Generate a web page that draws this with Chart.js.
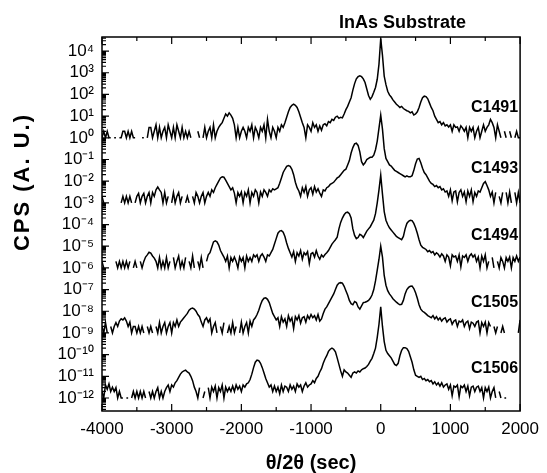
<!DOCTYPE html>
<html><head><meta charset="utf-8">
<script src="https://cdn.jsdelivr.net/npm/chart.js@4.4.1/dist/chart.umd.min.js"></script>
<style>html,body{margin:0;padding:0;background:#fff;}canvas{display:block;}</style>
</head><body>
<canvas id="c" width="547" height="473"></canvas>
<script>
const N = null;
// theta/2theta positions (sec)
const thetaSec = [
-4000,-3975,-3950,-3925,-3900,-3875,-3850,-3825,-3800,-3775,
-3750,-3725,-3700,-3675,-3650,-3625,-3600,-3575,-3550,-3525,
-3500,-3475,-3450,-3425,-3400,-3375,-3350,-3325,-3300,-3275,
-3250,-3225,-3200,-3175,-3150,-3125,-3100,-3075,-3050,-3025,
-3000,-2975,-2950,-2925,-2900,-2875,-2850,-2825,-2800,-2775,
-2750,-2725,-2700,-2675,-2650,-2625,-2600,-2575,-2550,-2525,
-2500,-2475,-2450,-2425,-2400,-2375,-2350,-2325,-2300,-2275,
-2250,-2225,-2200,-2175,-2150,-2125,-2100,-2075,-2050,-2025,
-2000,-1975,-1950,-1925,-1900,-1875,-1850,-1825,-1800,-1775,
-1750,-1725,-1700,-1675,-1650,-1625,-1600,-1575,-1550,-1525,
-1500,-1475,-1450,-1425,-1400,-1375,-1350,-1325,-1300,-1275,
-1250,-1225,-1200,-1175,-1150,-1125,-1100,-1075,-1050,-1025,
-1000,-975,-950,-925,-900,-875,-850,-825,-800,-775,
-750,-725,-700,-675,-650,-625,-600,-575,-550,-525,
-500,-475,-450,-425,-400,-375,-350,-325,-300,-275,
-250,-225,-200,-175,-150,-125,-100,-75,-50,-25,
0,25,50,75,100,125,150,175,200,225,
250,275,300,325,350,375,400,425,450,475,
500,525,550,575,600,625,650,675,700,725,
750,775,800,825,850,875,900,925,950,975,
1000,1025,1050,1075,1100,1125,1150,1175,1200,1225,
1250,1275,1300,1325,1350,1375,1400,1425,1450,1475,
1500,1525,1550,1575,1600,1625,1650,1675,1700,1725,
1750,1775,1800,1825,1850,1875,1900,1925,1950,1975,
2000];

// log10(counts) per sample (null = zero counts)
const c1491 = [
0,0.3,0,0.3,0,0,N,0,0,N,
0,0,0.3,0.3,0,0.3,0,0.3,0,0,
N,0,N,0,0,N,0,0.48,0.48,0,
0.3,0.6,0,0.48,0,0.3,0.48,0,0.6,0.3,
0,0.48,0,0.6,0.3,0,0.48,0,0.3,0,
0.3,0,N,0,N,0.3,0,N,0,0.48,
0,0.3,0.48,0,0.6,0,0.3,0.48,0.6,0.7,
0.9,1.1,1.0,1.15,1.05,0.9,0.6,0,0.48,0,
0.3,0.48,0.3,0,0.48,0.3,0.6,0,0.48,0.3,
0,0.48,0.3,0.6,0,0.85,0.3,0,0.48,0.3,
0,0.48,0.3,0.6,0.48,0.7,0.95,1.2,1.4,1.5,
1.55,1.5,1.4,1.2,0.95,0.7,0.48,0,0.6,0.48,
0.3,0.7,0.48,0.6,0.3,0.55,0.35,0.6,0.65,0.55,
0.75,0.7,0.85,0.8,0.95,1.0,0.9,0.95,0.92,1.1,
1.3,1.45,1.65,1.85,2.2,2.5,2.72,2.82,2.86,2.82,
2.72,2.55,2.25,1.95,1.78,1.9,2.1,2.32,2.7,3.4,
4.58,3.8,2.85,2.45,2.15,1.98,1.88,1.75,1.65,1.55,
1.48,1.4,1.45,1.35,1.3,1.25,1.22,1.15,1.2,1.05,
1.1,1.2,1.4,1.65,1.85,1.92,1.9,1.8,1.6,1.4,
1.25,1.0,0.85,0.7,0.75,0.6,0.7,0.55,0.6,0.5,
0.6,0.3,0.6,0.48,0.5,0.3,0.55,0.45,0.3,0.48,
0,0.48,0.3,0.48,0,0.3,0.48,0,0.3,0.6,
0.3,0.48,0.6,0.85,0.7,0.48,0,0.6,0.3,0,
N,0.3,0,N,0.3,0,N,0,0.3,0,
0];

const c1493 = [
0.3,0,N,0,N,N,0,N,N,0,
N,0,0.3,0,0.3,0,0.3,0,N,0,
0.3,0.44,0,0.3,0.44,0,0.3,0.48,0,0.48,
0.3,0.6,0.73,0.6,0.48,0,0.48,0,0.3,N,
0,0.48,0,0.3,0.48,0,0.3,N,0,0.3,
0,N,0.3,0,0.48,0.3,0,0.3,0.48,0,
0.3,0.48,0.3,0.6,0.48,0.7,0.85,1.0,1.15,1.2,
1.18,1.05,0.9,0.75,0.6,0.7,0.45,0,0.48,0.3,
0.5,0,0.48,0.3,0.6,0,0.48,0.3,0.6,0.48,
0,0.5,0.3,0.6,0.48,0.3,0.6,0.5,0.65,0.6,
0.65,0.7,0.9,1.15,1.4,1.55,1.68,1.72,1.68,1.55,
1.3,0.95,0.7,0.55,0.3,0.7,0.48,0.75,0.3,0.6,
0.7,0.4,0.75,0.5,0.65,0.45,0.3,0.6,0.55,0.7,
0.75,0.85,0.9,0.95,1.05,1.15,1.2,1.3,1.4,1.5,
1.55,1.75,1.95,2.3,2.55,2.72,2.75,2.65,2.35,1.9,
1.75,1.85,2.0,2.05,2.1,2.1,2.2,2.45,2.85,3.45,
4.05,3.4,2.5,2.05,1.9,1.75,1.7,1.6,1.5,1.45,
1.4,1.35,1.3,1.25,1.2,1.25,1.2,1.2,1.25,1.5,
1.8,2.02,2.05,1.85,1.6,1.4,1.3,1.15,1.0,0.9,
0.85,0.75,0.8,0.7,0.75,0.6,0.65,0.5,0.55,0.3,
0.6,0.1,0.5,0.55,0.05,0.48,0.6,0.3,0.5,0.05,
0.55,0.3,0.6,0.05,0.48,0.3,0.55,0.5,0.7,0.9,
0.98,0.8,0.6,0.3,0.5,0,0.48,N,0.3,0,
0.48,N,0.48,0,0.5,0,N,0.48,0,0.48,
0];

const c1494 = [
0.3,0,N,0.3,N,0,N,N,0.3,0,
0.3,0,0.3,0,0.3,0,0.3,N,0,0.3,
0,N,0.3,0,0.3,0.5,0.6,0.72,0.68,0.55,
0.45,0.3,0,0.48,0,0.3,0,0.48,0,0.3,
N,0.48,0,0.3,0.55,0,0.3,0,0.48,N,
0.3,0,0.55,0,N,0.3,0,0.48,0,N,
0.3,0.6,0.7,0.95,1.2,1.25,1.2,1.05,0.8,0.65,
0.5,0.3,0.55,0,0.48,0.3,0.5,0.3,0,0.5,
0.3,0.48,0,0.55,0.3,0.48,0.3,0.6,0.5,0.6,
0.3,0.55,0.65,0.5,0.3,0.6,0.55,0.7,0.85,1.1,
1.35,1.6,1.7,1.72,1.65,1.45,1.15,0.9,0.7,0.5,
0.75,0.3,0.7,0.55,0.8,0.4,0.7,0.6,0.75,0.2,
0.65,0.7,0.5,0.8,0.55,0.4,0.6,0.5,0.62,0.7,
0.8,0.95,1.1,1.2,1.3,1.42,1.8,2.1,2.3,2.45,
2.55,2.57,2.5,2.3,1.8,1.5,1.35,1.4,1.55,1.5,
1.4,1.55,1.7,1.8,1.9,2.05,2.2,2.5,3.0,3.6,
4.28,3.4,2.6,2.2,2.0,1.85,1.75,1.65,1.55,1.45,
1.4,1.35,1.3,1.45,1.8,2.05,2.15,2.2,2.18,2.05,
1.85,1.6,1.3,1.05,0.95,0.9,0.85,0.75,0.8,0.7,
0.75,0.6,0.7,0.63,0.5,0.65,0.55,0.3,0.6,0.5,
0.1,0.6,0.5,0.55,0.3,0.6,0.05,0.55,0.48,0.6,
0.3,0.55,0.65,0.5,0.6,0.3,0.5,0,0.55,0.3,
0.6,0,0.3,N,0.48,0,N,0.3,0,0.48,
0.3,0,0.48,0.3,0.5,0,0.48,0.3,0.55,0.3,
0.5];

const c1505 = [
0.3,0,0.48,0,N,0.3,0,0.3,0.48,0.3,
0.55,0.65,0.6,0.7,0.55,0.3,0.5,0,0.3,0.3,
0,0.3,0,0.3,0,N,0.3,0,0.3,0,
N,0.3,0,0.48,0,0.3,0.48,0,0.3,0.48,
0,0.48,0.3,0.6,0.3,0.5,0.6,0.7,0.8,0.9,
1.05,1.12,1.15,1.1,1.0,0.85,0.75,0.5,0.3,0.6,
0.7,0.5,0.65,0,0.3,0.48,0,N,0.3,0,
0.48,N,0,0.3,0,0.48,0,0.3,N,0,
0.5,0,0.3,0.48,0,0.55,0.3,0.6,0.7,0.85,
1.05,1.3,1.5,1.6,1.62,1.55,1.4,1.15,0.9,0.75,
0.6,0.7,0.3,0.75,0.5,0.65,0.3,0.8,0.55,0.7,
0.2,0.75,0.6,0.8,0.45,0.7,0.75,0.5,0.8,0.65,
0.85,0.7,0.8,0.6,0.85,0.55,0.65,0.9,1.1,1.2,
1.35,1.5,1.65,1.8,2.0,2.2,2.3,2.32,2.3,2.15,
1.95,1.75,1.5,1.35,1.3,1.45,1.4,1.2,1.1,1.25,
1.4,1.42,1.45,1.5,1.6,1.75,2.0,2.4,2.9,3.4,
4.0,3.5,2.65,2.2,1.95,1.8,1.7,1.58,1.5,1.42,
1.35,1.3,1.32,1.5,1.8,2.0,2.1,2.15,2.16,2.05,
1.85,1.6,1.3,1.1,1.0,0.95,0.88,0.8,0.75,0.7,
0.8,0.65,0.75,0.6,0.7,0.55,0.65,0.7,0.5,0.6,
0.65,0.4,0.55,0.6,0.3,0.55,0.5,0.6,0.3,0.48,
0.55,0.2,0.5,0.45,0.3,0.5,0.55,0,0.48,0.3,
0.5,0,0.48,0.3,N,0.3,0,0.3,N,0,
0.3,0,N,0,N,0,N,0,N,0,
0.6];

const c1506 = [
0.3,0,0.6,0.4,0.65,0.3,0.5,0.3,0.48,0,
0.3,0,0,N,0,0,N,0,0.3,0,
0.3,0,0.3,0,0.3,0,N,0.3,0,0.3,
0,0.3,0.48,0,0.3,0,0.3,0.48,0.6,0.3,
0.6,0.5,0.7,0.8,0.95,1.1,1.2,1.25,1.28,1.2,
1.15,1.0,0.8,0.5,0.3,0,0.48,N,0,0.3,
N,0.48,0,0.5,0.3,0.55,0,0.48,0.3,0.6,
0,0.5,0.3,0.48,0.3,0.55,0.3,0.6,0.4,0.55,
0.3,0.6,0.5,0.65,0.7,0.85,1.1,1.4,1.65,1.75,
1.72,1.6,1.4,1.15,0.9,0.7,0.5,0.6,0.3,0.55,
0.3,0.5,0.2,0.6,0.3,0.55,0.5,0.3,0.6,0.4,
0.55,0.3,0.65,0.5,0.6,0.3,0.55,0.7,0.5,0.6,
0.65,0.8,0.7,0.9,1.0,1.2,1.35,1.6,1.8,1.95,
2.15,2.25,2.3,2.25,2.13,1.85,1.55,1.25,1.0,1.3,
1.2,1.15,1.05,0.95,1.15,1.2,1.15,1.25,1.2,1.3,
1.35,1.38,1.45,1.55,1.7,1.83,2.05,2.3,2.8,3.4,
4.2,3.3,2.6,2.2,2.05,1.95,1.85,1.7,1.55,1.5,
1.6,1.95,2.2,2.32,2.32,2.28,2.15,1.9,1.65,1.3,
1.05,1.0,0.95,1.0,0.85,0.9,0.8,0.85,0.75,0.8,
0.65,0.75,0.6,0.7,0.55,0.7,0.5,0.6,0.65,0.4,
0.6,0.1,0.55,0.5,0.6,0.05,0.55,0.48,0.6,0.3,
0.55,0.1,0.5,0.55,0.3,0.5,0.55,0.3,0.48,0,
0.48,0.3,0.5,0,0.3,0.48,0,N,0.3,0,
N,0,0,N,0,N,0.3,N,0.48,N,
N];

const sampleNames = ['C1491','C1493','C1494','C1505','C1506'];
const sampleLogCounts = [c1491, c1493, c1494, c1505, c1506];
const offsetDecades = [0, -3, -6, -9, -12];      // vertical stacking of curves
const labelLogY = [1.4, -1.4, -4.5, -7.6, -10.65]; // where the sample names sit
const yTickExponents = [-12,-11,-10,-9,-8,-7,-6,-5,-4,-3,-2,-1,0,1,2,3,4];
const xTickValues = [-4000,-3000,-2000,-1000,0,1000,2000];
const xMinorTicks = [-3500,-2500,-1500,-500,500,1500];

sampleLogCounts.forEach((a,i)=>{ if(a.length!==thetaSec.length) console.error(sampleNames[i]+' length '+a.length); });

const SUP = {'-':'\u207B','0':'\u2070','1':'\u00B9','2':'\u00B2','3':'\u00B3','4':'\u2074','5':'\u2075','6':'\u2076','7':'\u2077','8':'\u2078','9':'\u2079'};
const supStr = n => String(n).split('').map(ch=>SUP[ch]).join('');

const datasets = sampleLogCounts.map((arr, i) => ({
  label: sampleNames[i],
  data: thetaSec.map((t, j) => ({x: t, y: arr[j] === null ? null : Math.pow(10, arr[j] + offsetDecades[i])})),
  borderColor: '#000', borderWidth: 1.5, pointRadius: 0, tension: 0, spanGaps: false, fill: false
}));

const FONT = '"Liberation Sans", Arial, sans-serif';
Chart.defaults.font.family = FONT;
Chart.defaults.color = '#000';

const decorPlugin = {
  id: 'decor',
  afterDatasetsDraw(chart) {
    const {ctx, chartArea: a, scales: {x, y}} = chart;
    ctx.save();
    ctx.strokeStyle = '#000';
    ctx.lineWidth = 1.5;
    ctx.strokeRect(a.left, a.top, a.right - a.left, a.bottom - a.top);
    ctx.lineWidth = 1.2;
    ctx.beginPath();
    xTickValues.forEach(v => { const px = x.getPixelForValue(v);
      ctx.moveTo(px, a.bottom); ctx.lineTo(px, a.bottom - 7);
      ctx.moveTo(px, a.top); ctx.lineTo(px, a.top + 7); });
    xMinorTicks.forEach(v => { const px = x.getPixelForValue(v);
      ctx.moveTo(px, a.bottom); ctx.lineTo(px, a.bottom - 4);
      ctx.moveTo(px, a.top); ctx.lineTo(px, a.top + 4); });
    [-13].concat(yTickExponents).forEach(e => {
      const py = y.getPixelForValue(Math.pow(10, e));
      if (py >= a.top && py <= a.bottom) { ctx.moveTo(a.left, py); ctx.lineTo(a.left + 7, py); }
      for (let m = 2; m <= 9; m++) {
        const pm = y.getPixelForValue(m * Math.pow(10, e));
        if (pm >= a.top && pm <= a.bottom) { ctx.moveTo(a.left, pm); ctx.lineTo(a.left + 4, pm); }
      }
    });
    ctx.stroke();
    // texts
    ctx.fillStyle = '#000';
    ctx.textBaseline = 'middle';
    ctx.font = 'bold 16px ' + FONT;
    ctx.textAlign = 'right';
    sampleNames.forEach((n, i) => ctx.fillText(n, a.right - 2, y.getPixelForValue(Math.pow(10, labelLogY[i]))));
    ctx.font = 'bold 18px ' + FONT;
    ctx.textAlign = 'left';
    ctx.fillText('InAs Substrate', x.getPixelForValue(-600), 23);
    // y axis title
    ctx.translate(23, 182);
    ctx.rotate(-Math.PI / 2);
    ctx.font = 'bold 22px ' + FONT;
    ctx.letterSpacing = '2px';
    ctx.textAlign = 'center';
    ctx.fillText('CPS (A. U.)', 0, 0);
    ctx.restore();
  }
};

new Chart(document.getElementById('c'), {
  type: 'line',
  data: { datasets },
  options: {
    responsive: false, animation: false, devicePixelRatio: 1,
    layout: { padding: { left: 0, right: 25, top: 37, bottom: 0 } },
    plugins: { legend: { display: false }, tooltip: { enabled: false } },
    scales: {
      x: {
        type: 'linear', min: -4000, max: 2000,
        afterFit: s => { s.height = 62; },
        afterBuildTicks: s => { s.ticks = xTickValues.map(v => ({value: v})); },
        grid: { display: false, drawTicks: false },
        border: { display: false },
        ticks: { padding: 8, autoSkip: false, maxRotation: 0, font: { size: 17 }, callback: v => String(v) },
        title: { display: true, text: '\u03B8/2\u03B8 (sec)', font: { size: 20, weight: 'bold', lineHeight: 1 }, padding: { top: 0, bottom: 0 } }
      },
      y: {
        type: 'logarithmic', min: Math.pow(10, -12.6), max: Math.pow(10, 4.65),
        afterFit: s => { s.width = 102; },
        afterBuildTicks: s => { s.ticks = yTickExponents.map(e => ({value: Math.pow(10, e)})); },
        grid: { display: false, drawTicks: false },
        border: { display: false },
        ticks: { padding: 8, autoSkip: false, font: { size: 17 }, callback: v => '10' + supStr(Math.round(Math.log10(v))) },
        title: { display: false }
      }
    }
  },
  plugins: [decorPlugin]
});
</script>
</body></html>
